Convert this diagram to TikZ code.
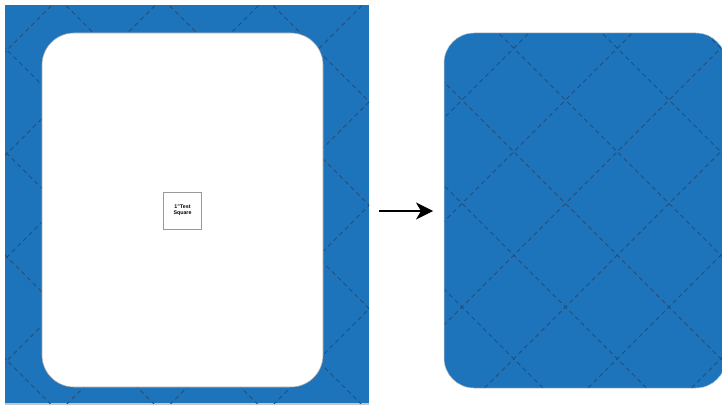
\documentclass[tikz,border=0pt]{standalone}
\usepackage{fontspec}
\setmainfont{Liberation Sans}
\usetikzlibrary{arrows.meta}
\definecolor{quiltblue}{RGB}{30,116,187}
\definecolor{stitch}{RGB}{34,78,124}
\tikzset{
  stitchline/.style={draw=stitch, line width=0.9pt, dash pattern=on 4.5pt off 3.5pt},
  panelblue/.style={fill=quiltblue},
  edgegray/.style={draw=gray!70, line width=0.6pt},
}
\begin{document}
\begin{tikzpicture}[x=1pt,y=-1pt]
\useasboundingbox (0,0) rectangle (722,406);
\fill[white] (0,0) rectangle (722,406);
% left panel background
\fill[gray!45] (5,403) rectangle (369,405);
\fill[panelblue] (5,5) rectangle (369,403);
\begin{scope}
  \clip (5,5) rectangle (369,403);
  \foreach \k in {-1,...,7} {
    \pgfmathsetmacro{\c}{57+103.5*\k}
    \draw[stitchline] ({\c},0) -- ({\c-410},410);
  }
  \foreach \k in {-4,...,4} {
    \pgfmathsetmacro{\c}{-43+103.5*\k}
    \draw[stitchline] ({\c},0) -- ({\c+410},410);
  }
\end{scope}
% white rounded rectangle
\draw[edgegray, fill=white, rounded corners=32pt] (42,33) rectangle (323,387);
% test square
\node[draw=gray!80, line width=0.6pt, fill=white, minimum width=38pt, minimum height=37pt,
      inner sep=0pt, align=center, font=\bfseries\fontsize{5.3}{6.2}\selectfont] (testsq) at (182.5,210.5) {1"Test\\Square};
% right panel
\begin{scope}
  \path[rounded corners=30pt, clip] (444,33) rectangle (726,388);
  \fill[panelblue] (440,30) rectangle (730,392);
  \foreach \k in {-1,...,5} {
    \pgfmathsetmacro{\c}{562+103.5*\k}
    \draw[stitchline] ({\c},0) -- ({\c-410},410);
  }
  \foreach \k in {-3,...,4} {
    \pgfmathsetmacro{\c}{362+103.5*\k}
    \draw[stitchline] ({\c},0) -- ({\c+410},410);
  }
\end{scope}
\draw[gray!45, line width=0.5pt, rounded corners=30pt] (444,33) rectangle (726,388);
% arrow
\coordinate (arrowstart) at (379,211);
\coordinate (arrowend) at (433,211);
\draw[line width=1.5pt, -{Stealth[length=17pt,width=17pt,inset=5pt]}] (arrowstart) -- (arrowend);
\end{tikzpicture}
\end{document}
